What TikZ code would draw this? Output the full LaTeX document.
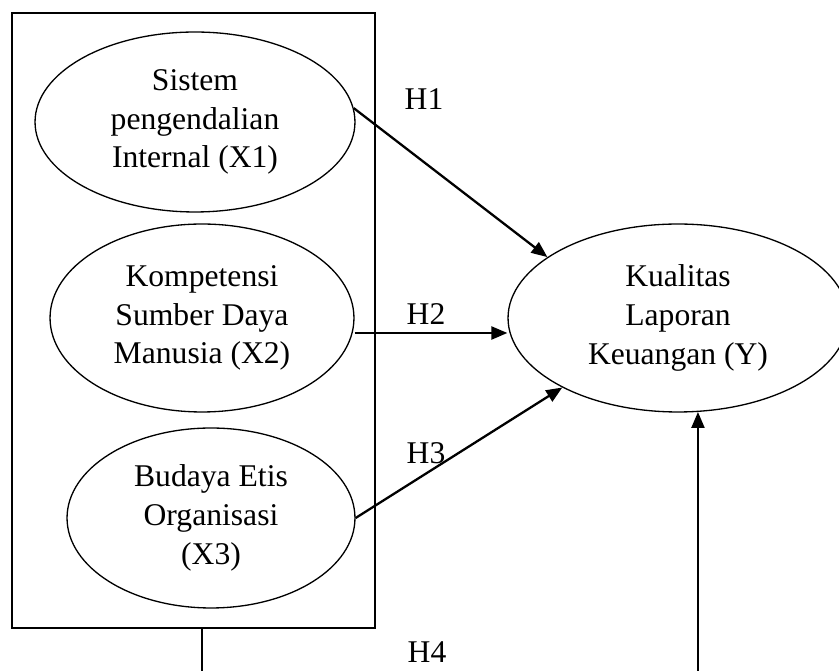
\documentclass[tikz,border=0pt]{standalone}
\usepackage{fontspec}
\setmainfont{Liberation Serif}
\usetikzlibrary{arrows.meta,positioning,calc,shapes.geometric}

\begin{document}
\begin{tikzpicture}[x=0.02cm,y=-0.02cm,
	var/.style={draw,line width=0.75pt,ellipse,inner sep=0pt,align=center,
		font=\fontsize{18}{22}\selectfont},
	hyp/.style={-{Triangle[length=3.2mm,width=2.6mm]},line width=1.3pt},
	lbl/.style={font=\fontsize{18}{22}\selectfont,inner sep=0pt}]
	\useasboundingbox (0,0) rectangle (839,671);
	
	% independent variables
	\node[draw,line width=0.9pt,minimum width=7.26cm,minimum height=12.3cm] (box) at (193.5,320.5) {};
	\node[var,minimum width=6.4cm,minimum height=3.6cm] (x1) at (195,122) {Sistem\\pengendalian\\Internal (X1)};
	\node[var,minimum width=6.08cm,minimum height=3.76cm] (x2) at (202,318) {Kompetensi\\Sumber Daya\\Manusia (X2)};
	\node[var,minimum width=5.76cm,minimum height=3.6cm] (x3) at (211,518) {Budaya Etis\\Organisasi\\(X3)};
	
	% dependent variable
	\node[var,minimum width=6.8cm,minimum height=3.76cm] (y) at (678,318) {Kualitas\\Laporan\\Keuangan (Y)};
	
	% hypotheses
	\draw[hyp] (x1.5) -- (y.155);
	\draw[hyp] ([yshift=-0.3cm]x2.east) -- ([yshift=-0.3cm]y.west);
	\draw[hyp] (x3.east) -- (y.211);
	\draw[hyp] (x2 |- box.south) -- ++(0,80) -| (y.-78);
	
	\node[lbl] (h1) at (424,99) {H1};
	\node[lbl] (h2) at (426,314) {H2};
	\node[lbl] (h3) at (426,453) {H3};
	\node[lbl] (h4) at (427,652) {H4};
\end{tikzpicture}
\end{document}
